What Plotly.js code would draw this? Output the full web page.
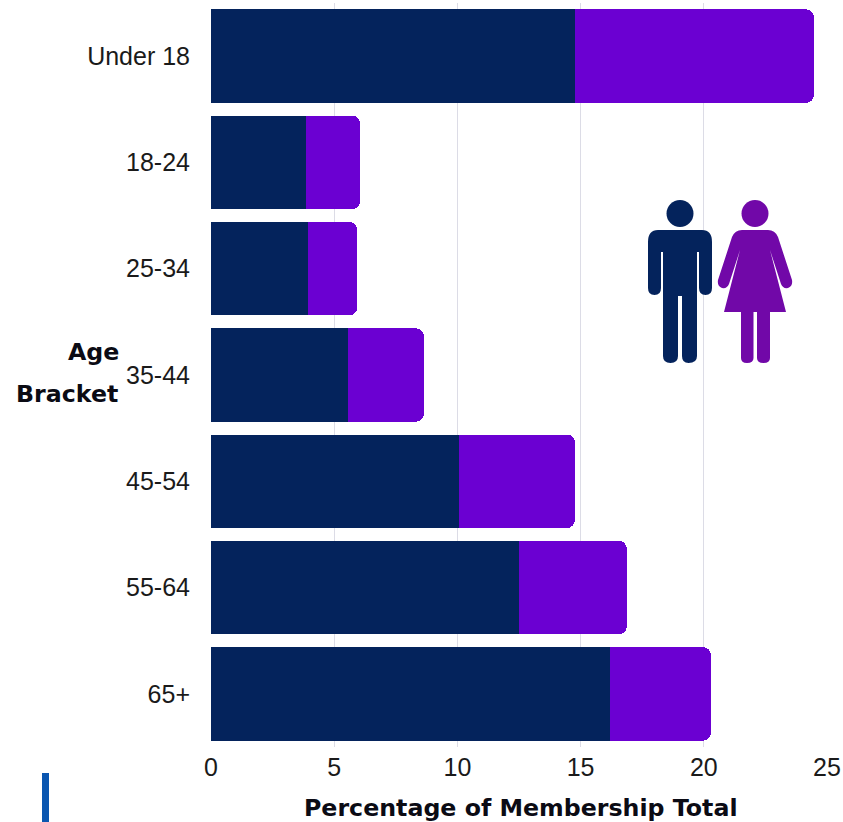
<!DOCTYPE html>
<html><head><meta charset="utf-8">
<script src="https://cdn.plot.ly/plotly-3.0.1.min.js"></script>
<style>html,body{margin:0;padding:0;background:#fff}#c{width:843px;height:822px}</style></head>
<body><div id="c"></div>
<script>
const ageBrackets = ["Under 18","18-24","25-34","35-44","45-54","55-64","65+"];
const menShare = [14.77,3.86,3.94,5.56,10.06,12.5,16.19];
const womenShare = [9.7,2.19,1.99,3.08,4.71,4.38,4.1];
const xTicks = [0,5,10,15,20,25];
const W=843,H=822;
const iconSvg = `<svg xmlns="http://www.w3.org/2000/svg" viewBox="0 0 200 200" width="600" height="600">
<g fill="#04235c"><circle cx="60" cy="33.5" r="13.5"/>
<path d="M38 50H82Q92 50 92 62V108Q92 115 85.500 115Q79 115 79 108V72H77V176Q77 183 68.500 183Q62 183 62 176V116H58V176Q58 183 50.500 183Q43 183 43 176V72H41V108Q41 115 34.500 115Q28 115 28 108V62Q28 50 38 50Z"/></g>
<g fill="#7108a8"><circle cx="135" cy="33.5" r="13.500"/>
<path d="M122 50H148Q155 50 158 57L172 100Q173 106 168 108Q163 109 161 104L150 70L166 132H150V178Q150 183 143.500 183Q137 183 137 178V132H133.500V178Q133.500 183 127 183Q121 183 121 178V132H104L120 70L109 104Q107 109 102 108Q97 106 98 100L112 57Q115 50 122 50Z"/></g></svg>`;
const iconUri = "data:image/svg+xml;charset=utf-8," + encodeURIComponent(iconSvg);
const boldFont = {family:"'DejaVu Sans', sans-serif",size:23.7,color:"#0b0b14",weight:700};
Plotly.newPlot("c",[
 {type:"bar",orientation:"h",name:"Men",y:ageBrackets,x:menShare,marker:{color:"#04235c",line:{width:0}},hoverinfo:"x+y"},
 {type:"bar",orientation:"h",name:"Women",y:ageBrackets,x:womenShare,marker:{color:"#6b00d2",line:{width:0}},hoverinfo:"x+y"}
],{
 width:W,height:H,paper_bgcolor:"#fff",plot_bgcolor:"#fff",showlegend:false,
 barmode:"stack",bargap:0.12,barcornerradius:8,
 margin:{l:211,r:16,t:3,b:75,pad:0},
 xaxis:{range:[0,25],tickvals:xTicks,ticktext:xTicks.map(String),gridcolor:"#dcdce6",gridwidth:1,zeroline:false,showline:false,ticks:"",ticklabelstandoff:3,
  tickfont:{family:"'Liberation Sans',sans-serif",size:25,color:"#1a1a1a"},automargin:false},
 yaxis:{categoryorder:"array",categoryarray:ageBrackets,autorange:"reversed",showgrid:false,zeroline:false,showline:false,ticks:"",ticklabelstandoff:20,
  tickfont:{family:"'Liberation Sans',sans-serif",size:25,color:"#1a1a1a"},automargin:false},
 annotations:[
  {xref:"paper",yref:"paper",x:(521-211)/616,y:1-(808-3)/744,xanchor:"center",yanchor:"middle",showarrow:false,text:"<b>Percentage of Membership Total</b>",font:boldFont},
  {xref:"paper",yref:"paper",x:(93-211)/616,y:1-(352-3)/744,xanchor:"center",yanchor:"middle",showarrow:false,text:"<b>Age</b>",font:boldFont},
  {xref:"paper",yref:"paper",x:(67-211)/616,y:1-(394-3)/744,xanchor:"center",yanchor:"middle",showarrow:false,text:"<b>Bracket</b>",font:boldFont}
 ],
 shapes:[{type:"rect",xref:"paper",yref:"paper",x0:(42-211)/616,x1:(49-211)/616,y0:1-(773-3)/744,y1:1-(822-3)/744,fillcolor:"#0a56b0",line:{width:0}}],
 images:[{source:iconUri,xref:"paper",yref:"paper",x:(620-211)/616,y:1-(180-3)/744,sizex:200/616,sizey:200/744,xanchor:"left",yanchor:"top",sizing:"stretch",layer:"above"}]
},{displayModeBar:false,staticPlot:true});
</script></body></html>
